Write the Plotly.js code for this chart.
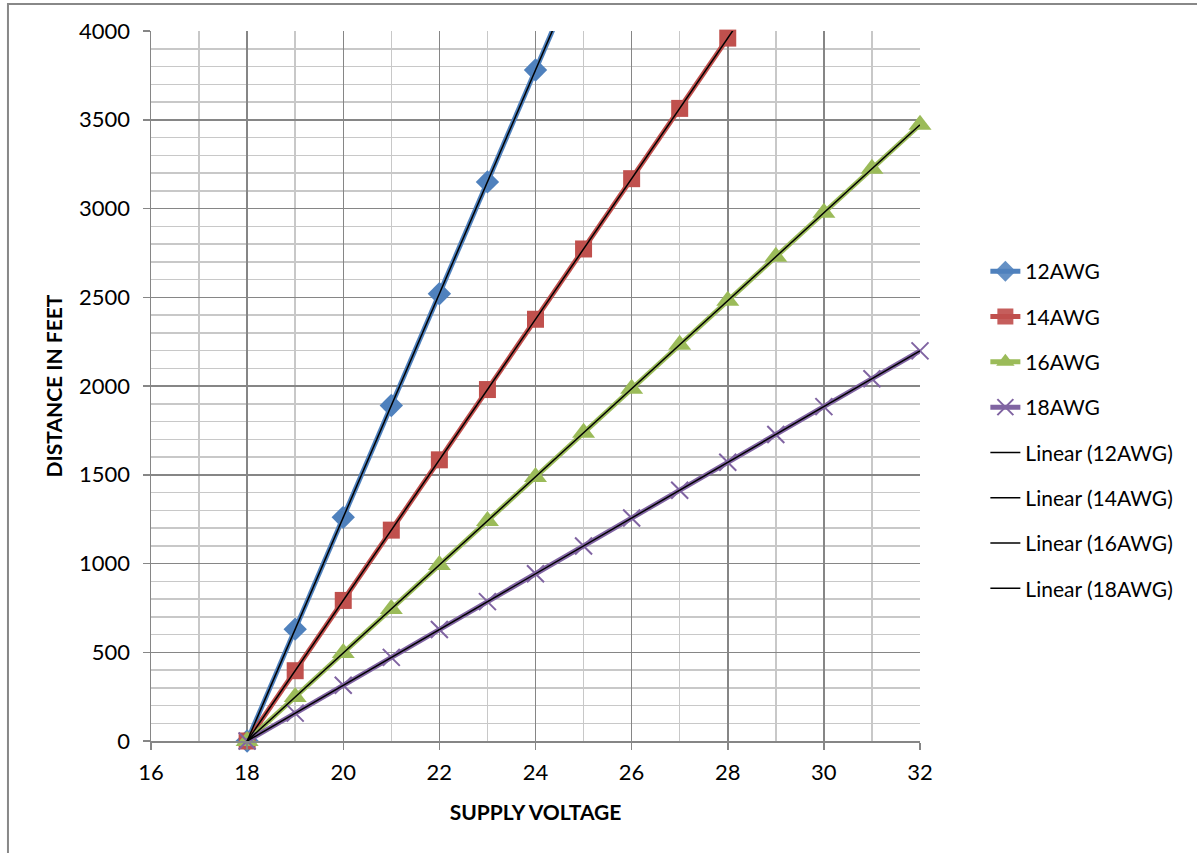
<!DOCTYPE html>
<html>
<head>
<meta charset="utf-8">
<script src="https://cdn.plot.ly/plotly-3.0.1.min.js"></script>
<style>html,body{margin:0;padding:0;background:#fff;}#chart{width:1197px;height:853px;}</style>
</head>
<body>
<div id="chart"></div>
<script>
// Data (supply voltage in V, distance in feet)
const volts12 = [18, 19, 20, 21, 22, 23, 24, 25];
const awg12 = [0, 630, 1260, 1890, 2520, 3150, 3780, 4410];
const volts14 = [18, 19, 20, 21, 22, 23, 24, 25, 26, 27, 28, 29];
const awg14 = [0, 396, 792, 1188, 1584, 1980, 2376, 2772, 3168, 3564, 3960, 4356];
const volts16 = [18, 19, 20, 21, 22, 23, 24, 25, 26, 27, 28, 29, 30, 31, 32];
const awg16 = [0, 248, 496, 744, 992, 1240, 1488, 1736, 1984, 2232, 2480, 2728, 2976, 3224, 3472];
const volts18 = [18, 19, 20, 21, 22, 23, 24, 25, 26, 27, 28, 29, 30, 31, 32];
const awg18 = [0, 157, 314, 471, 628, 785, 942, 1099, 1256, 1413, 1570, 1727, 1884, 2041, 2198];
const seriesNames = ['12AWG', '14AWG', '16AWG', '18AWG'];
const xTitle = 'SUPPLY VOLTAGE';
const yTitle = 'DISTANCE IN FEET';
const yMax = 4000;

const FONT = 'Lato, "Open Sans", sans-serif';

function linFit(xs, ys) {
  const n = xs.length;
  let sx = 0, sy = 0, sxx = 0, sxy = 0;
  for (let i = 0; i < n; i++) { sx += xs[i]; sy += ys[i]; sxx += xs[i]*xs[i]; sxy += xs[i]*ys[i]; }
  const m = (n*sxy - sx*sy) / (n*sxx - sx*sx);
  const b = (sy - m*sx) / n;
  return xs.map(x => m*x + b);
}

const xs = [volts12, volts14, volts16, volts18];
const ys = [awg12, awg14, awg16, awg18];
const colors = ['#4F81BD', '#C0504D', '#9BBB59', '#8064A2'];
const markerDefs = [
  {symbol: 'diamond', size: 18},
  {symbol: 'square', size: 17},
  {symbol: 'triangle-up', size: 20},
  {symbol: 'x-thin-open', size: 17, line: {color: '#8064A2', width: 2}}
];

const traces = [];
for (let i = 0; i < 4; i++) {
  const m = Object.assign({color: colors[i]}, markerDefs[i]);
  m.opacity = ys[i].map(v => v > yMax ? 0 : 1);
  traces.push({
    x: xs[i], y: ys[i], name: seriesNames[i], type: 'scatter', mode: 'lines+markers',
    line: {color: colors[i], width: 5}, marker: m, legendgroup: 'g' + i, cliponaxis: false
  });
}
for (let i = 0; i < 4; i++) {
  traces.push({
    x: xs[i], y: linFit(xs[i], ys[i]), name: 'Linear (' + seriesNames[i] + ')', type: 'scatter', mode: 'lines',
    line: {color: '#000000', width: 1.5}, legendgroup: 'h' + i
  });
}

const layout = {
  width: 1197, height: 853,
  margin: {l: 151, r: 277, t: 31, b: 112},
  paper_bgcolor: '#ffffff', plot_bgcolor: '#ffffff',
  font: {family: FONT, size: 21, color: '#000'},
  showlegend: true,
  legend: {x: 1.085, xanchor: 'left', y: 0.69, yanchor: 'top', font: {family: FONT, size: 21, color: '#000'},
           tracegroupgap: 15, bgcolor: 'rgba(0,0,0,0)'},
  xaxis: {
    range: [16, 32], dtick: 2, tick0: 16, showline: true, linecolor: '#868686', linewidth: 1.5,
    showgrid: true, gridcolor: '#868686', gridwidth: 1.5, zeroline: false,
    ticks: 'outside', ticklen: 7, tickcolor: '#868686', tickwidth: 1.5, ticklabelstandoff: 4,
    tickfont: {family: FONT, size: 22, color: '#000'},
    minor: {dtick: 1, showgrid: true, gridcolor: '#C8C8C8', gridwidth: 1.5, ticks: ''},
    title: {text: '<b>' + xTitle + '</b>', font: {family: FONT, size: 21, color: '#000'}, standoff: 21}
  },
  yaxis: {
    range: [0, yMax], dtick: 500, showline: true, linecolor: '#868686', linewidth: 1.5,
    showgrid: true, gridcolor: '#868686', gridwidth: 1.5, zeroline: false,
    ticks: 'outside', ticklen: 7, tickcolor: '#868686', tickwidth: 1.5, ticklabelstandoff: 8,
    tickfont: {family: FONT, size: 22, color: '#000'},
    minor: {dtick: 100, showgrid: true, gridcolor: '#C8C8C8', gridwidth: 1.5, ticks: ''},
    title: {text: '<b>' + yTitle + '</b>', font: {family: FONT, size: 21, color: '#000'}, standoff: 10}
  },
  shapes: [{
    type: 'rect', xref: 'paper', yref: 'paper',
    x0: -0.186, x1: 1.5, y0: -0.5, y1: 1.038,
    line: {color: '#888888', width: 2}, fillcolor: 'rgba(0,0,0,0)', layer: 'below'
  }]
};

Plotly.newPlot('chart', traces, layout, {displayModeBar: false, staticPlot: true});
</script>
</body>
</html>
